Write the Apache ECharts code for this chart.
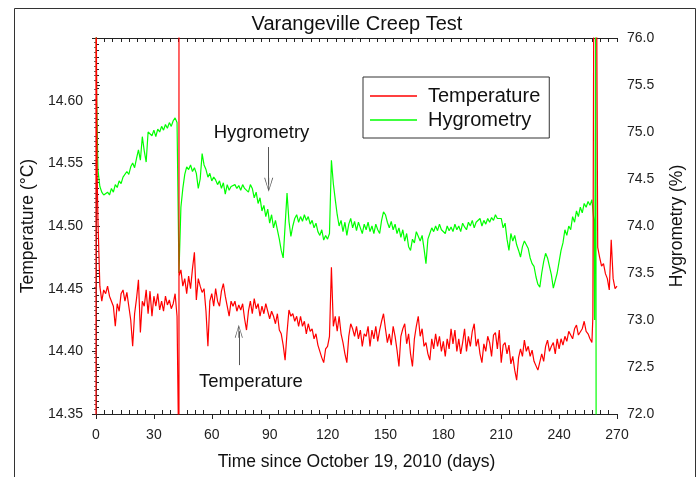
<!DOCTYPE html>
<html>
<head>
<meta charset="utf-8">
<script src="https://cdn.jsdelivr.net/npm/echarts@6/dist/echarts.min.js"></script>
<style>
  html, body { margin: 0; padding: 0; background: #fff; }
  #main { width: 697px; height: 477px; }
</style>
</head>
<body>
<div id="main"></div>
<script>
// Temperature (left axis, degC) -- spikes as [day, value], regular readings one per day
var tempStart = [[0, 14.30], [0, 14.70], [0.6, 14.54]];
// days 1..42
var tempA = [14.505, 14.452, 14.440, 14.449, 14.446, 14.452, 14.444, 14.440, 14.436, 14.420,
  14.438, 14.432, 14.446, 14.449, 14.440, 14.447, 14.436, 14.425, 14.404, 14.430,
  14.442, 14.457, 14.415, 14.440, 14.436, 14.449, 14.430, 14.448, 14.428, 14.444,
  14.436, 14.446, 14.433, 14.440, 14.432, 14.444, 14.437, 14.441, 14.434, 14.438,
  14.446, 14.428];
var tempSpike43 = [[43, 14.30], [43, 14.70], [43, 14.46]];
// days 44..257
var tempB = [14.465, 14.452, 14.458, 14.446, 14.460, 14.450, 14.466, 14.479, 14.441, 14.458,
  14.452, 14.447, 14.450, 14.432, 14.404, 14.440, 14.446, 14.436, 14.450, 14.440,
  14.436, 14.448, 14.454, 14.444, 14.436, 14.428, 14.440, 14.436, 14.440, 14.432,
  14.437, 14.433, 14.438, 14.426, 14.417, 14.432, 14.440, 14.430, 14.442, 14.434,
  14.438, 14.428, 14.436, 14.430, 14.438, 14.432, 14.426, 14.432, 14.428, 14.422,
  14.430, 14.417, 14.414, 14.405, 14.393, 14.415, 14.433, 14.428, 14.430, 14.424,
  14.428, 14.420, 14.428, 14.420, 14.424, 14.414, 14.422, 14.416, 14.418, 14.410,
  14.414, 14.405, 14.400, 14.395, 14.391, 14.402, 14.404, 14.412, 14.467, 14.420,
  14.428, 14.416, 14.428, 14.414, 14.407, 14.398, 14.391, 14.412, 14.422, 14.418,
  14.412, 14.420, 14.410, 14.417, 14.404, 14.414, 14.412, 14.420, 14.404, 14.417,
  14.410, 14.420, 14.408, 14.417, 14.424, 14.430, 14.418, 14.407, 14.414, 14.405,
  14.420, 14.412, 14.401, 14.388, 14.412, 14.418, 14.422, 14.406, 14.414, 14.398,
  14.388, 14.410, 14.420, 14.428, 14.412, 14.418, 14.404, 14.407, 14.398, 14.393,
  14.410, 14.402, 14.414, 14.404, 14.412, 14.400, 14.408, 14.396, 14.410, 14.402,
  14.418, 14.406, 14.417, 14.400, 14.410, 14.398, 14.407, 14.418, 14.400, 14.412,
  14.404, 14.416, 14.422, 14.404, 14.410, 14.398, 14.391, 14.406, 14.400, 14.412,
  14.407, 14.396, 14.413, 14.415, 14.402, 14.417, 14.391, 14.405, 14.407, 14.398,
  14.405, 14.390, 14.396, 14.385, 14.377, 14.395, 14.402, 14.396, 14.409, 14.400,
  14.404, 14.396, 14.401, 14.392, 14.391, 14.385, 14.385, 14.398, 14.392, 14.404,
  14.409, 14.400, 14.404, 14.407, 14.398, 14.410, 14.402, 14.410, 14.405, 14.412,
  14.408, 14.416, 14.417, 14.410, 14.418, 14.421, 14.413, 14.412, 14.418, 14.424,
  14.416, 14.414, 14.410, 14.407];
var tempSpike258 = [[257.5, 14.428], [258, 14.70], [259.4, 14.70]];
// days 260..270
var tempC = [14.483, 14.475, 14.468, 14.470, 14.462, 14.458, 14.449, 14.489, 14.458, 14.450, 14.452];

// Hygrometry (right axis, %)
var hygStart = [[0, 76.5], [0.3, 75.4], [1, 74.6]];
// days 2..42
var hygA = [74.42, 74.36, 74.33, 74.31, 74.36, 74.33, 74.40, 74.36, 74.44, 74.41,
  74.48, 74.45, 74.52, 74.50, 74.58, 74.55, 74.63, 74.67, 74.62, 74.72,
  74.81, 74.70, 74.95, 74.80, 74.68, 75.00, 75.02, 74.96, 75.02, 74.95,
  75.03, 75.00, 75.06, 75.02, 75.08, 75.04, 75.10, 75.06, 75.12, 75.15,
  75.10];
var hygDrop43 = [[43, 73.5]];
// days 44..258
var hygB = [74.20, 74.40, 74.55, 74.63, 74.60, 74.65, 74.58, 74.62, 74.56, 74.40,
  74.50, 74.77, 74.65, 74.60, 74.52, 74.56, 74.48, 74.52, 74.49, 74.44,
  74.48, 74.40, 74.46, 74.34, 74.44, 74.38, 74.42, 74.40, 74.44, 74.40,
  74.43, 74.38, 74.44, 74.40, 74.42, 74.36, 74.44, 74.40, 74.30, 74.36,
  74.24, 74.30, 74.16, 74.22, 74.10, 74.18, 74.03, 74.12, 73.98, 74.06,
  73.96, 73.86, 73.74, 73.66, 73.64, 74.35, 74.05, 73.89, 74.00, 74.08,
  74.12, 74.04, 74.10, 74.05, 74.12, 74.06, 74.10, 74.02, 74.06, 73.98,
  74.03, 73.94, 73.90, 73.96, 73.85, 73.90, 73.86, 73.92, 74.70, 74.45,
  74.28, 74.12, 74.00, 74.06, 73.94, 74.04, 73.90, 74.02, 74.08, 73.98,
  74.05, 73.95, 74.04, 73.98, 73.92, 74.02, 73.96, 74.04, 73.94, 74.00,
  73.92, 74.02, 73.96, 73.92, 74.06, 74.15, 74.12, 74.04, 73.98, 74.05,
  73.96, 74.02, 73.92, 73.98, 73.88, 73.96, 73.84, 73.92, 73.78, 73.74,
  73.86, 73.82, 73.94, 73.89, 73.84, 73.90, 73.76, 73.60, 73.86, 73.92,
  73.98, 73.94, 74.00, 73.95, 74.02, 73.96, 73.98, 73.92, 74.00, 73.95,
  73.99, 73.94, 74.02, 73.96, 74.00, 73.94, 74.03, 73.99, 73.96, 74.04,
  74.00, 74.06, 73.98, 74.04, 74.02, 74.08, 74.00, 74.06, 74.02, 74.08,
  74.04, 74.09, 74.06, 74.12, 74.08, 74.10, 74.08, 73.98, 74.03, 73.86,
  73.74, 73.92, 73.84, 73.90, 73.80, 73.74, 73.67, 73.78, 73.84, 73.80,
  73.76, 73.66, 73.60, 73.57, 73.46, 73.38, 73.35, 73.50, 73.62, 73.71,
  73.66, 73.64, 73.48, 73.34, 73.32, 73.50, 73.62, 73.74, 73.82, 73.96,
  73.90, 74.00, 73.96, 74.10, 74.04, 74.16, 74.10, 74.20, 74.14, 74.24,
  74.20, 74.26, 74.22, 74.28, 74.06];
var hygEnd = [[258.4, 73.0], [259, 76.5], [259.2, 71.5]];

function daily(vals, firstDay) {
  return vals.map(function (v, i) { return [firstDay + i, v]; });
}

var tempData = [].concat(tempStart, daily(tempA, 1), tempSpike43, daily(tempB, 44), tempSpike258, daily(tempC, 260));
var hygData = [].concat(hygStart, daily(hygA, 2), hygDrop43, daily(hygB, 44), hygEnd);

// open arrow head with a short shaft, tip pointing along the line
var arrowHead = 'path://M5,0 L10,14 L9,14 L5.5,3 L5.5,14 L4.5,14 L4.5,3 L1,14 L0,14 Z';

var font = 'Liberation Sans';
var chart = echarts.init(document.getElementById('main'));

var option = {
  animation: false,
  textStyle: { fontFamily: font },
  title: {
    text: 'Varangeville Creep Test',
    left: 352,
    top: 9,
    textAlign: 'center',
    textStyle: { fontSize: 20, fontWeight: 'normal', color: '#111', fontFamily: font }
  },
  legend: {
    data: ['Temperature', 'Hygrometry'],
    orient: 'vertical',
    left: 363,
    top: 77,
    padding: [9, 9, 8, 7],
    icon: 'rect',
    itemWidth: 47,
    itemHeight: 1.5,
    itemGap: 4,
    backgroundColor: '#fff',
    borderColor: '#333',
    borderWidth: 1,
    textStyle: { fontSize: 20, lineHeight: 20, color: '#111', fontFamily: font, padding: [0, 0, 0, 6] }
  },
  graphic: [{
    type: 'rect',
    left: 12,
    top: 6,
    shape: { width: 681, height: 520 },
    style: { fill: 'none', stroke: '#333', lineWidth: 1 },
    silent: true
  }],
  grid: { left: 96, top: 38, width: 521, height: 376 },
  xAxis: [{
    type: 'value',
    min: 0, max: 270, interval: 30,
    name: 'Time since October 19, 2010 (days)',
    nameLocation: 'middle',
    nameGap: 39,
    nameTextStyle: { fontSize: 17.5, color: '#111' },
    axisLine: { lineStyle: { color: '#222', width: 1 } },
    axisTick: { length: 5, lineStyle: { color: '#222' } },
    minorTick: { show: true, splitNumber: 7, length: -4, lineStyle: { color: '#222' } },
    axisLabel: { fontSize: 14, color: '#222', margin: 14 },
    splitLine: { show: false }
  }, {
    type: 'value',
    position: 'top',
    min: 0, max: 270, interval: 30,
    axisLine: { show: true, lineStyle: { color: '#222', width: 1 } },
    axisTick: { inside: true, length: 4, lineStyle: { color: '#222' } },
    minorTick: { show: true, splitNumber: 7, length: 4, lineStyle: { color: '#222' } },
    axisLabel: { show: false },
    splitLine: { show: false }
  }],
  yAxis: [{
    type: 'value',
    min: 14.35, max: 14.65, interval: 0.05,
    name: 'Temperature (°C)',
    nameLocation: 'middle',
    nameGap: 55,
    nameTextStyle: { fontSize: 17.5, color: '#111' },
    axisLine: { show: true, lineStyle: { color: '#222', width: 1 } },
    axisTick: { length: 4, lineStyle: { color: '#222' } },
    minorTick: { show: true, splitNumber: 10, length: -3, lineStyle: { color: '#222' } },
    axisLabel: {
      fontSize: 14, color: '#222', margin: 13, showMaxLabel: false,
      formatter: function (v) { return v.toFixed(2); }
    },
    splitLine: { show: false }
  }, {
    type: 'value',
    position: 'right',
    min: 72, max: 76, interval: 0.5,
    name: 'Hygrometry (%)',
    nameLocation: 'middle',
    nameGap: 51,
    nameTextStyle: { fontSize: 17.5, color: '#111' },
    axisLine: { show: true, lineStyle: { color: '#444', width: 1 } },
    axisTick: { length: 4, lineStyle: { color: '#222' } },
    minorTick: { show: true, splitNumber: 10, length: -2, lineStyle: { color: '#666' } },
    axisLabel: {
      fontSize: 14, color: '#222', margin: 10,
      formatter: function (v) { return v.toFixed(1); }
    },
    splitLine: { show: false }
  }],
  series: [{
    name: 'Hygrometry',
    type: 'line',
    xAxisIndex: 0,
    yAxisIndex: 1,
    data: hygData,
    showSymbol: false,
    symbol: 'none',
    clip: true,
    color: '#00ff00',
    lineStyle: { color: '#00ff00', width: 1.2 },
    markPoint: {
      symbol: 'circle', symbolSize: 1, silent: true,
      itemStyle: { color: 'rgba(0,0,0,0)' },
      label: { show: true, position: 'inside', formatter: '{b}', fontSize: 18.5, color: '#111' },
      data: [{ name: 'Hygrometry', coord: [85.8, 74.99] }]
    },
    markLine: {
      silent: true,
      symbol: ['none', arrowHead],
      symbolSize: [9, 14],
      label: { show: false },
      lineStyle: { color: '#555', width: 1, type: 'solid' },
      data: [[{ coord: [89.5, 74.84] }, { coord: [89.5, 74.44] }]]
    }
  }, {
    name: 'Temperature',
    type: 'line',
    xAxisIndex: 0,
    yAxisIndex: 0,
    data: tempData,
    showSymbol: false,
    symbol: 'none',
    clip: true,
    color: '#ff0000',
    lineStyle: { color: '#ff0000', width: 1.2 },
    markPoint: {
      symbol: 'circle', symbolSize: 1, silent: true,
      itemStyle: { color: 'rgba(0,0,0,0)' },
      label: { show: true, position: 'inside', formatter: '{b}', fontSize: 18.5, color: '#111' },
      data: [{ name: 'Temperature', coord: [80.3, 14.376] }]
    },
    markLine: {
      silent: true,
      symbol: ['none', arrowHead],
      symbolSize: [8, 13],
      label: { show: false },
      lineStyle: { color: '#555', width: 1, type: 'solid' },
      data: [[{ coord: [74, 14.389] }, { coord: [74, 14.416] }]]
    }
  }]
};

chart.setOption(option);
</script>
</body>
</html>
